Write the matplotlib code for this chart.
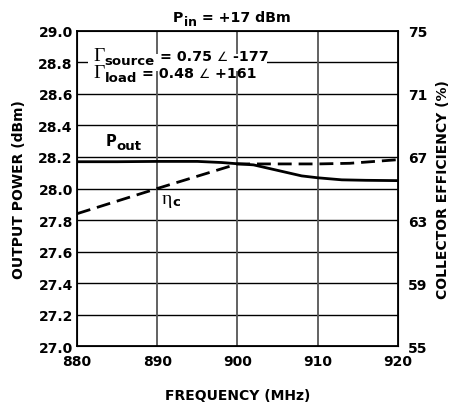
import matplotlib
matplotlib.use("Agg")
import matplotlib.pyplot as plt

# 数据
freq_pout = [880, 885, 890, 895, 898, 900, 902, 905, 908, 910, 913, 916, 920]
pout = [28.17, 28.17, 28.172, 28.172, 28.165, 28.157, 28.15, 28.115, 28.08, 28.068, 28.055, 28.052, 28.05]
freq_eff = [880, 890, 900, 905, 910, 914, 920]
eff = [63.4, 65.0, 66.56, 66.56, 66.56, 66.6, 66.83]
x_ticks = [880, 890, 900, 910, 920]
y_ticks = [27.0, 27.2, 27.4, 27.6, 27.8, 28.0, 28.2, 28.4, 28.6, 28.8, 29.0]
y2_ticks = [55, 59, 63, 67, 71, 75]

plt.rcParams['font.family'] = ['DejaVu Sans']
plt.rcParams['font.weight'] = 'bold'

fig = plt.figure(figsize=(4.49, 4.06), dpi=100)
ax = fig.add_axes([0.1715, 0.1453, 0.7149, 0.7759])
renderer = fig.canvas.get_renderer()

ax.set_xlim(880, 920)
ax.set_ylim(27.0, 29.0)
ax.set_xticks(x_ticks)
ax.set_yticks(y_ticks)
ax.set_xticklabels([str(v) for v in x_ticks])
ax.set_yticklabels(["%.1f" % v for v in y_ticks])
ax.tick_params(length=0, labelsize=10, pad=3)
ax.tick_params(axis="x", pad=6)
for y in y_ticks[1:-1]:
    ax.axhline(y, color="black", lw=1.0, zorder=1)
for x in x_ticks[1:-1]:
    ax.axvline(x, color="#555555", lw=1.3, zorder=1)
for s in ax.spines.values():
    s.set_linewidth(1.3)

ax.plot(freq_pout, pout, color="black", lw=2.0, zorder=3)

ax2 = ax.twinx()
ax2.set_ylim(55, 75)
ax2.set_yticks(y2_ticks)
ax2.set_yticklabels([str(v) for v in y2_ticks])
ax2.tick_params(length=0, labelsize=10, pad=7)
ax2.plot(freq_eff, eff, color="black", lw=2.0, dashes=(5, 2.5), zorder=3)

ax.set_xlabel("FREQUENCY (MHz)", fontsize=10, fontweight="bold", labelpad=14)
ax.set_ylabel("OUTPUT POWER (dBm)", fontsize=10, fontweight="bold", labelpad=9)
ax2.set_ylabel("COLLECTOR EFFICIENCY (%)", fontsize=10, fontweight="bold", labelpad=6)


def chain(xy, parts, coords="data", center=False):
    # parts: (文字, 字号, 字体, 粗细, 下沉像素)
    texts = []
    dx = 0.0
    for s, size, fam, wt, drop in parts:
        t = ax.annotate(s, xy=xy, xycoords=coords, xytext=(dx, -drop),
                        textcoords="offset pixels", fontsize=size, family=fam,
                        fontweight=wt, va="baseline", ha="left", zorder=5,
                        annotation_clip=False)
        dx += t.get_window_extent(renderer).width
        texts.append(t)
    if center:
        for t in texts:
            ox, oy = t.xyann
            t.xyann = (ox - dx / 2, oy)
    return dx


sans = "DejaVu Sans"
serif = "Liberation Serif"

# 标题
chain((0.482, 1.032), [("P", 10.2, sans, "bold", 0), ("in", 9, sans, "bold", 4),
                       (" = +17 dBm", 10.2, sans, "bold", 0)], coords="axes fraction", center=True)

# Γ 注释，白底盖住 28.8 网格线
ax.text(881.6, 28.80, " " * 36, fontsize=10, va="center",
        bbox=dict(facecolor="white", edgecolor="none", pad=1), zorder=4)
chain((882.0, 28.814), [("Γ", 14, serif, "normal", 0), ("source", 9.5, sans, "bold", 4),
                        (" = 0.75 ", 10.3, sans, "bold", 0), ("∠", 9, sans, "normal", 0),
                        (" -177", 10.3, sans, "bold", 0)])
chain((882.0, 28.706), [("Γ", 14, serif, "normal", 0), ("load", 9.5, sans, "bold", 4),
                        (" = 0.48 ", 10.3, sans, "bold", 0), ("∠", 9, sans, "normal", 0),
                        (" +161", 10.3, sans, "bold", 0)])

# 曲线标签
chain((883.6, 28.275), [("P", 10.5, sans, "bold", 0), ("out", 9.5, sans, "bold", 4)])
chain((890.6, 27.91), [("η", 14, serif, "normal", 0), ("c", 9.5, sans, "bold", 2)])

plt.savefig("out.png", dpi=100)
